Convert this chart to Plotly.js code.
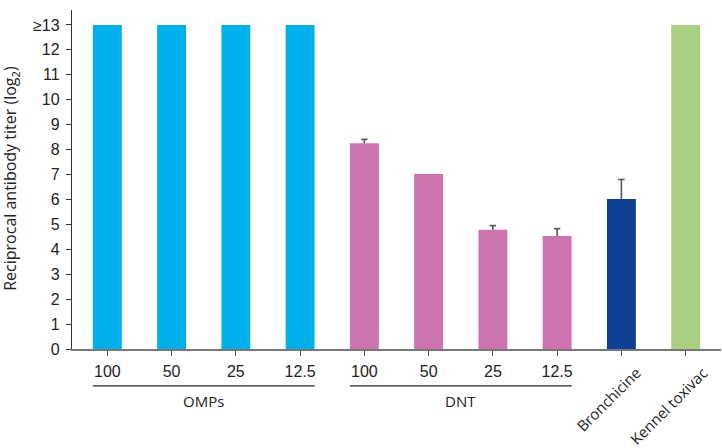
<!DOCTYPE html>
<html><head><meta charset="utf-8">
<script src="https://cdn.plot.ly/plotly-3.0.1.min.js"></script>
<style>body{margin:0;padding:0;background:#fff}#chart{width:722px;height:448px}</style>
</head><body><div id="chart"></div>
<script>
const categories = ["100","50","25","12.5","100","50","25","12.5","Bronchicine","Kennel toxivac"];
const groups = ["OMPs","OMPs","OMPs","OMPs","DNT","DNT","DNT","DNT","Bronchicine","Kennel toxivac"];
const values = [13,13,13,13,8.25,7.02,4.78,4.53,6.02,13];
const errPlus = [0,0,0,0,0.16,0,0.17,0.30,0.78,0];
const barColors = ["#00b0ea","#00b0ea","#00b0ea","#00b0ea","#cd73ad","#cd73ad","#cd73ad","#cd73ad","#0f3f92","#a8cf82"];
const yTickVals = [0,1,2,3,4,5,6,7,8,9,10,11,12,13];
const yTickText = ["0","1","2","3","4","5","6","7","8","9","10","11","12","≥13"];
const rotatedCats = ["Bronchicine","Kennel toxivac"];

const idx = categories.map((c,i)=>i);
const font = "Liberation Sans, Arial, sans-serif";
const font2 = "Open Sans, Noto Sans, sans-serif";
const textCol = "#222";

// upward-only error bars built from data (stem + cap)
const ex = [], ey = [];
const capHalf = 0.05;
idx.forEach(i=>{
  if (errPlus[i] > 0) {
    const top = values[i] + errPlus[i];
    ex.push(i, i, null, i - capHalf, i + capHalf, null);
    ey.push(values[i], top, null, top, top, null);
  }
});

const traces = [{
  type:"bar", x: idx, y: values,
  marker:{color: barColors, line:{width:0}},
  width: 0.45,
  hoverinfo:"none"
},{
  type:"scatter", mode:"lines", x: ex, y: ey,
  line:{color:"#555", width:1.6}, connectgaps:false,
  hoverinfo:"none"
},{
  type:"scatter", mode:"markers", x:[-0.55], y:[13.78],
  marker:{symbol:"triangle-up", size:11, color:"#111"},
  cliponaxis:false, hoverinfo:"none"
}];

const plainIdx = idx.filter(i => !rotatedCats.includes(categories[i]));
const rotIdx = idx.filter(i => rotatedCats.includes(categories[i]));

const annotations = [];
const rotPos = {"Bronchicine":[-0.20,-0.1475], "Kennel toxivac":[-0.27,-0.168]};
rotIdx.forEach(i=>{
  const c = categories[i];
  annotations.push({x: i + rotPos[c][0], y: rotPos[c][1], xref:"x", yref:"paper", text:c, showarrow:false,
    textangle:-45, xanchor:"center", yanchor:"middle", font:{family:font2, size:15, color:textCol}});
});
const shapes = [];
["OMPs","DNT"].forEach(g=>{
  const ids = idx.filter(i=>groups[i]===g);
  const a = Math.min(...ids), b = Math.max(...ids);
  shapes.push({type:"line", xref:"x", yref:"paper", x0:a-0.225, x1:b+0.225, y0:-0.109, y1:-0.109, line:{color:"#222", width:1.2}});
  annotations.push({x:(a+b)/2, y:-0.153, xref:"x", yref:"paper", text:g, showarrow:false, xanchor:"center", yanchor:"middle", font:{family:font2, size:15, color:textCol}});
});
annotations.push({x:-0.094, y:0.505, xref:"paper", yref:"paper", text:"Reciprocal antibody titer (log<sub>2</sub>)", showarrow:false, textangle:-90, xanchor:"center", yanchor:"middle", font:{family:font2, size:16, color:textCol}});

const layout = {
  width:722, height:448,
  margin:{l:72, r:1, t:10, b:99},
  paper_bgcolor:"#fff", plot_bgcolor:"#fff",
  showlegend:false,
  font:{family:font, color:textCol},
  xaxis:{range:[-0.55,9.55], tickvals: plainIdx, ticktext: plainIdx.map(i=>categories[i]), showgrid:false, zeroline:false,
    showline:true, linecolor:"#777", linewidth:1.5, ticks:"outside", ticklen:5, tickcolor:"#555", tickwidth:1.2,
    minor:{tickvals: rotIdx, ticks:"outside", ticklen:5, tickcolor:"#555", tickwidth:1.2, showgrid:false},
    tickfont:{family:font, size:16, color:textCol}, ticklabelstandoff:2, fixedrange:true},
  yaxis:{range:[0,13.6], tickvals:yTickVals, ticktext:yTickText, showgrid:false, zeroline:false,
    showline:true, linecolor:"#333", linewidth:1.2, ticks:"outside", ticklen:5, tickcolor:"#333", tickwidth:1,
    tickfont:{family:font, size:16, color:textCol}, ticklabelstandoff:3, fixedrange:true},
  shapes: shapes,
  annotations: annotations
};
Plotly.newPlot("chart", traces, layout, {displayModeBar:false, staticPlot:true});
</script></body></html>
